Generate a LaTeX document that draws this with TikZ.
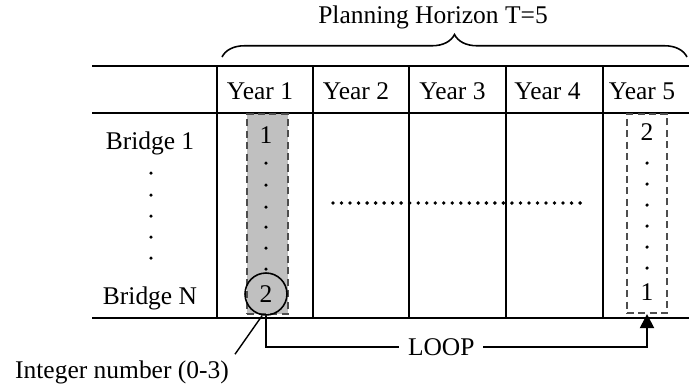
\documentclass[tikz,border=0pt]{standalone}
\usepackage{fontspec}
\setmainfont{Liberation Serif}
\usetikzlibrary{arrows.meta,decorations.pathreplacing}
\definecolor{boxgray}{HTML}{C0C0C0}
\definecolor{dashgray}{HTML}{4D4D4D}
\begin{document}
\begin{tikzpicture}[x=0.02cm,y=-0.02cm,font=\fontsize{14.5}{17}\selectfont,
  rule/.style={line width=1.1pt},
  selbox/.style={draw=dashgray,line width=0.9pt,dash pattern=on 4pt off 2.5pt,
    inner sep=0,minimum width=0.81cm,minimum height=3.99cm},
  vdot/.style={fill=black}]
\useasboundingbox (0,0) rectangle (689,387);
% table
\foreach \y in {66,113,318} \draw[rule] (92,\y) -- (689,\y);
\foreach \x in {217,313,409,506,603} \draw[rule] (\x,66) -- (\x,318);
% selected columns
\node (yr1) [selbox,fill=boxgray] at (267.5,214) {};
\node (yr5) [selbox] at (647,213.5) {};
% headers
\node (h1) at (260,91) {Year 1};
\node (h2) at (356,91) {Year 2};
\node (h3) at (452.5,91) {Year 3};
\node (h4) at (547.5,91) {Year 4};
\node (h5) at (642,91) {Year 5};
\node (b1) at (150,143) {Bridge 1};
\node (bn) at (150,298) {Bridge N};
% column entries
\node (one) at (266,135) {1};
\node (int) [circle,draw,line width=0.9pt,minimum size=0.84cm,inner sep=0] at (266,294) {2};
\node (two) at (647,132) {2};
\node (last) at (647,292) {1};
\foreach \y in {163,185,207,227,248,269} \fill[vdot] (266,\y) circle (1pt);
\foreach \y in {173,195,216,237,258} \fill[vdot] (151,\y) circle (1pt);
\foreach \y in {163,184,205,226,247,268} \fill[vdot] (647,\y) circle (1pt);
\foreach \i in {0,...,29} \fill[vdot] (333+\i*8.52,203) circle (1.1pt);
% planning horizon
\draw[decorate,decoration={brace,amplitude=0.45cm},line width=0.9pt] (222,57) -- (687,57);
\node (plan) at (433,17) {Planning Horizon T=5};
% integer label
\node (intlbl) at (122,372) {Integer number (0-3)};
\draw[line width=0.8pt] (intlbl.north east) -- (int.-100);
% loop
\coordinate (loopturn) at (266,347);
\draw[rule,-{Triangle[length=0.28cm,width=0.28cm]}] (int.south) -- (loopturn)
  -| node[pos=0.23,fill=white,inner xsep=5pt] {LOOP} (yr5.south);
\end{tikzpicture}
\end{document}
